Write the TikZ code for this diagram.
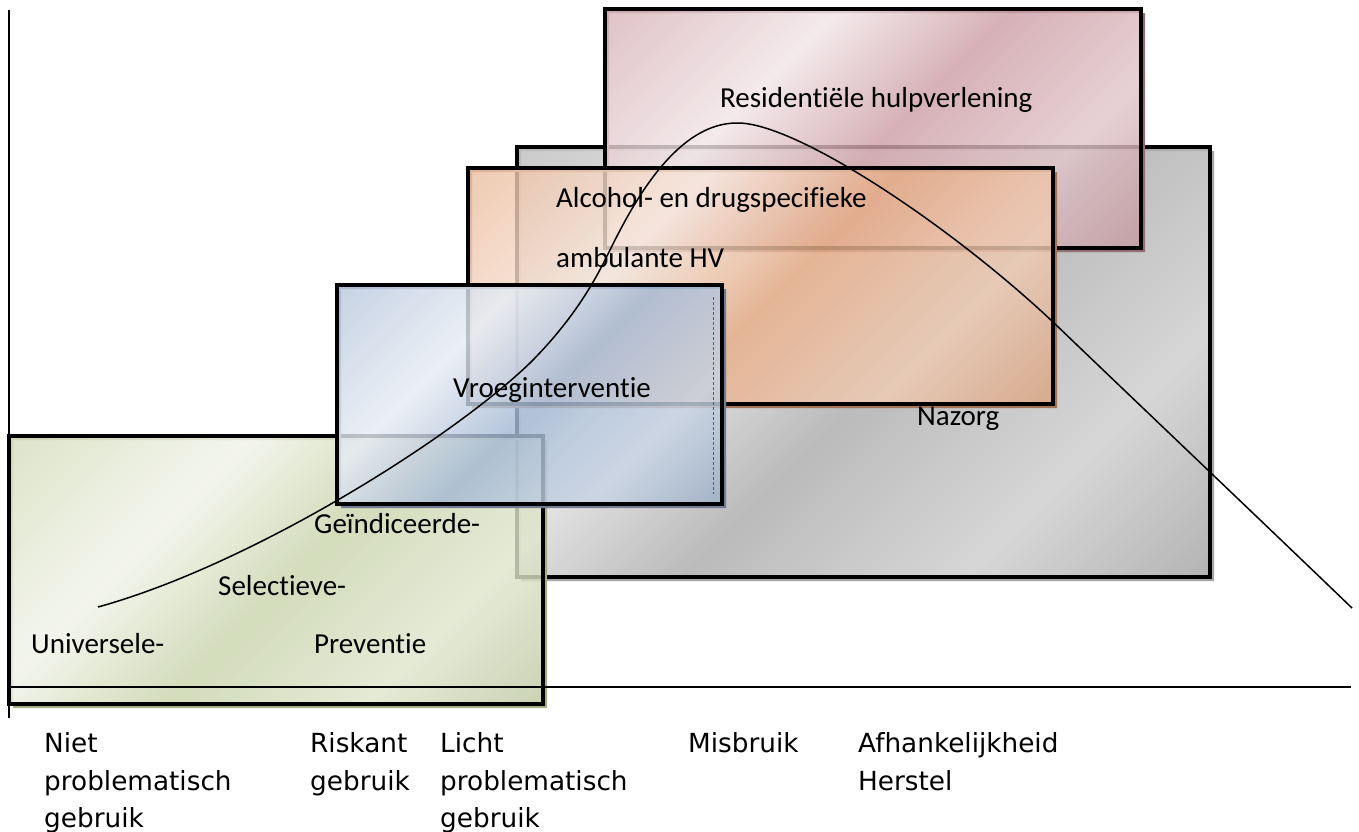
\documentclass[tikz,border=0pt]{standalone}
\usepackage{fontspec}
\setmainfont{Carlito}[Ligatures=NoCommon]
\newfontfamily\axfont{DejaVu Sans}

\definecolor{gnA}{RGB}{202,212,172}
\definecolor{gnS}{RGB}{165,175,135}
\definecolor{blA}{RGB}{165,185,212}
\definecolor{blS}{RGB}{115,125,145}
\definecolor{orA}{RGB}{230,172,134}
\definecolor{orS}{RGB}{165,115,85}
\definecolor{pkA}{RGB}{205,160,168}
\definecolor{pkS}{RGB}{145,110,115}
\definecolor{gyA}{RGB}{172,172,172}
\definecolor{gyS}{RGB}{165,165,165}

\newcommand\mkshade[2]{\pgfdeclarehorizontalshading{#1}{100bp}{%
  color(0bp)=(#2!70!white); color(16bp)=(#2!75!white);
  color(36bp)=(#2!28!white); color(52bp)=(#2);
  color(70bp)=(#2!60!white); color(86bp)=(#2!94!black);
  color(100bp)=(#2!94!black)}}
\mkshade{shG}{gnA}
\mkshade{shB}{blA}
\mkshade{shO}{orA}
\mkshade{shP}{pkA}
\mkshade{shY}{gyA}

\tikzset{
  boxshape/.style={draw=black, line width=3.2pt, fill opacity=0.82, shading angle=-45},
  boxtext/.style={anchor=base west, inner sep=0pt, font=\fontsize{29}{35}\selectfont},
  axtext/.style={anchor=base west, inner sep=0pt, font=\axfont\fontsize{26.3}{38}\selectfont},
  axisline/.style={line width=1.3pt, black},
}

\newcommand\drawbox[4]{%
  \fill[#4, even odd rule] ([shift={(4,4)}]#2) rectangle ([shift={(4,4)}]#3) (#2) rectangle (#3);
  \shadedraw[boxshape, shading=#1] (#2) rectangle (#3);}

\begin{document}
\begin{tikzpicture}[x=1pt,y=-1pt]
\useasboundingbox (0,0) rectangle (1359,831);

% box corners
\coordinate (yTL) at (517,147);  \coordinate (yBR) at (1210,577);
\coordinate (pTL) at (605,9);    \coordinate (pBR) at (1141,248);
\coordinate (gTL) at (9,436);    \coordinate (gBR) at (543,704);
\coordinate (oTL) at (468,168);  \coordinate (oBR) at (1053,404);
\coordinate (bTL) at (337,285);  \coordinate (bBR) at (722,504);

\drawbox{shY}{yTL}{yBR}{gyS}
\drawbox{shP}{pTL}{pBR}{pkS}
\drawbox{shG}{gTL}{gBR}{gnS}
\drawbox{shO}{oTL}{oBR}{orS}
\drawbox{shB}{bTL}{bBR}{blS}

% dashed line inside the blue box
\coordinate (dTop) at (713,297); \coordinate (dBot) at (713,494);
\draw[black!65, line width=1pt, dash pattern=on 3pt off 2pt] (dTop) -- (dBot);

% axes
\coordinate (yAxTop) at (9,10);  \coordinate (yAxBot) at (9,718);
\coordinate (xAxL) at (9,687);   \coordinate (xAxR) at (1351,687);
\draw[axisline] (yAxTop) -- (yAxBot);
\draw[axisline] (xAxL) -- (xAxR);

% curve
\coordinate (c0) at (98,607);
\coordinate (c1) at (530,363);
\coordinate (c2) at (605,260);
\coordinate (c3) at (737,123);
\coordinate (c4) at (1053,322);
\coordinate (c5) at (1352,608);
\draw[line width=1.5pt, black]
  (c0) .. controls (250,565) and (450,440) .. (c1)
       .. controls (560,333) and (585,300) .. (c2)
       .. controls (625,220) and (670,123) .. (c3)
       .. controls (795,122) and (950,225) .. (c4)
       .. controls (1150,415) and (1250,510) .. (c5);

% box texts
\node[boxtext] (tRes) at (720,107) {Residentiële hulpverlening};
\node[boxtext] (tAlc) at (556,207) {Alcohol- en drugspecifieke};
\node[boxtext] (tAmb) at (556,267) {ambulante HV};
\node[boxtext] (tVro) at (453,397) {Vroeginterventie};
\node[boxtext] (tNaz) at (917,425) {Nazorg};
\node[boxtext] (tGei) at (314,533) {Geïndiceerde-};
\node[boxtext] (tSel) at (218,595) {Selectieve-};
\node[boxtext] (tUni) at (31,653)  {Universele-};
\node[boxtext] (tPre) at (314,653) {Preventie};

% axis labels
\node[axtext] (a1a) at (44,752)  {Niet};
\node[axtext] (a1b) at (44,790)  {problematisch};
\node[axtext] (a1c) at (44,827)  {gebruik};
\node[axtext] (a2a) at (310,752) {Riskant};
\node[axtext] (a2b) at (310,790) {gebruik};
\node[axtext] (a3a) at (440,752) {Licht};
\node[axtext] (a3b) at (440,790) {problematisch};
\node[axtext] (a3c) at (440,827) {gebruik};
\node[axtext] (a4a) at (688,752) {Misbruik};
\node[axtext] (a5a) at (858,752) {Afhankelijkheid};
\node[axtext] (a5b) at (858,790) {Herstel};
\end{tikzpicture}
\end{document}
